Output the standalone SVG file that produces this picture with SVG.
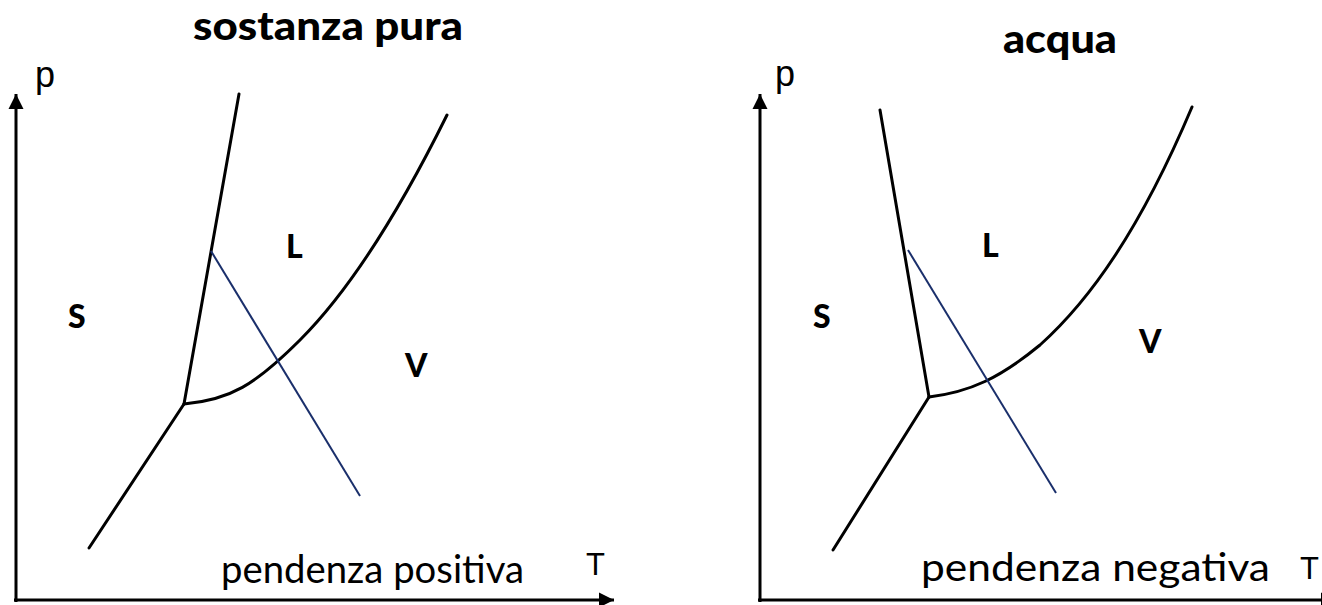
<svg xmlns="http://www.w3.org/2000/svg" width="1322" height="605" viewBox="0 0 1322 605">
<defs>
<marker id="arr" viewBox="0 0 10 10" refX="10" refY="5" markerWidth="5" markerHeight="5.4" orient="auto" markerUnits="strokeWidth">
<path d="M0,0 L10,5 L0,10 Z" fill="#000"/>
</marker>
<style>
.ax{stroke:#000;stroke-width:3;fill:none}
.cv{stroke:#000;stroke-width:3;fill:none;stroke-linecap:round}
.bl{stroke:#1a2f6b;stroke-width:2;fill:none}
.ttl{font-family:Lato,"Open Sans",sans-serif;font-weight:900;font-size:39px;fill:#000}
.ph{font-family:Lato,"Open Sans",sans-serif;font-weight:900;font-size:32px;fill:#000}
.ax-l{font-family:"Liberation Sans",Arial,sans-serif;font-size:36px;fill:#000}
.axt{font-family:"Liberation Sans",Arial,sans-serif;font-size:31px;fill:#000}
.cap{font-family:Lato,"Open Sans",sans-serif;font-size:38px;fill:#000}
</style>
</defs>
<g id="connectors">
<line class="ax" x1="16" y1="602" x2="16" y2="94" marker-end="url(#arr)"/>
<line class="ax" x1="14" y1="600" x2="614" y2="600" marker-end="url(#arr)"/>
<line class="ax" x1="760" y1="602" x2="760" y2="94" marker-end="url(#arr)"/>
<line class="ax" x1="758" y1="600" x2="1336" y2="600" marker-end="url(#arr)"/>
</g>
<g id="left-diagram">
<line class="cv" x1="89" y1="548" x2="184" y2="404"/>
<line class="cv" x1="184" y1="404" x2="239" y2="94"/>
<path class="cv" d="M184,404 C230,400 255,385 300,340 C350,290 400,210 447,115"/>
<line class="bl" x1="211" y1="251" x2="360" y2="496"/>
</g>
<g id="right-diagram">
<line class="cv" x1="833" y1="550" x2="929" y2="397"/>
<line class="cv" x1="929" y1="397" x2="880" y2="110"/>
<path class="cv" d="M929,397 C970,392 1000,378 1040,345 C1090,300 1140,230 1192,107"/>
<line class="bl" x1="908" y1="250" x2="1056" y2="493"/>
</g>
<g id="labels-left">
<text class="ttl" x="193" y="40" textLength="270" lengthAdjust="spacingAndGlyphs">sostanza pura</text>
<text class="ax-l" x="35" y="87">p</text>
<text class="axt" x="586" y="575">T</text>
<text class="ph" x="68" y="328">S</text>
<text class="ph" x="286" y="258">L</text>
<text class="ph" x="405" y="377">V</text>
<text class="cap" x="221" y="583" textLength="303" lengthAdjust="spacingAndGlyphs">pendenza positiva</text>
</g>
<g id="labels-right">
<text class="ttl" x="1003" y="53" textLength="114" lengthAdjust="spacingAndGlyphs">acqua</text>
<text class="ax-l" x="775" y="86">p</text>
<text class="axt" x="1300" y="579">T</text>
<text class="ph" x="813" y="328">S</text>
<text class="ph" x="982" y="257">L</text>
<text class="ph" x="1139" y="353">V</text>
<text class="cap" x="921" y="581" textLength="349" lengthAdjust="spacingAndGlyphs">pendenza negativa</text>
</g>
</svg>
